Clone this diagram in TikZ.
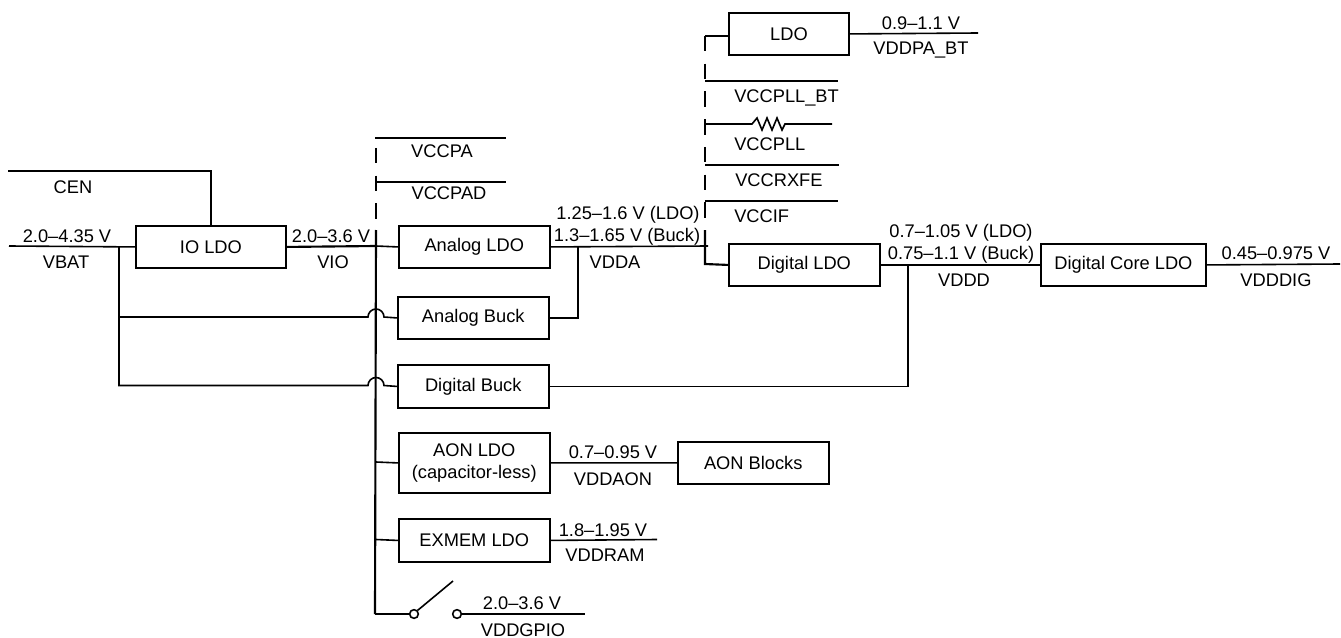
\documentclass[tikz,border=0pt]{standalone}
\usepackage{fontspec}
\setmainfont{Liberation Sans}
\usepackage{tikz}
\usetikzlibrary{positioning}

\begin{document}
\begin{tikzpicture}[
          x=0.75pt, y=-0.75pt,
          ldobox/.style={rectangle, draw=black, line width=1.4pt, anchor=north west, inner sep=0pt, font=\fontsize{13.7}{16.5}\selectfont, align=center},
          wire/.style={draw=black, line width=1.2pt},
          mainrail/.style={draw=black, line width=1.6pt},
          railbreak/.style={mainrail, dash pattern=on 11.6pt off 9.2pt},
          voltlabel/.style={font=\fontsize{13.7}{16.5}\selectfont, inner sep=0pt, text height=9.8pt, text depth=0pt},
          railpin/.style={circle, draw=black, fill=white, line width=1.2pt, minimum size=6.5pt, inner sep=0pt}
        ]
          \useasboundingbox (0,0) rectangle (1341,638);

          % Regulator boxes
          \node[ldobox, minimum width=112.5pt, minimum height=32pt] (ioldo) at (135,224.67) {IO LDO};
          \node[ldobox, minimum width=113pt, minimum height=32pt] (analogldo) at (398,224.67) {Analog LDO};
          \node[ldobox, minimum width=113pt, minimum height=32pt] (analogbuck) at (397,295.67) {Analog Buck};
          \node[ldobox, minimum width=113pt, minimum height=32pt] (digitalbuck) at (397,364.17) {Digital Buck};
          \node[ldobox, minimum width=113pt, minimum height=45pt] (aonldo) at (398,432) {AON LDO\\(capacitor-less)};
          \node[ldobox, minimum width=113pt, minimum height=32pt] (exmemldo) at (398,518.17) {EXMEM LDO};
          \node[ldobox, minimum width=113pt, minimum height=32pt] (aonblocks) at (677,440.67) {AON Blocks};
          \node[ldobox, minimum width=90pt, minimum height=31.5pt] (paldo) at (728,12) {LDO};
          \node[ldobox, minimum width=113pt, minimum height=31.5pt] (digitalldo) at (728,243) {Digital LDO};
          \node[ldobox, minimum width=123.75pt, minimum height=31.5pt] (coreldo) at (1040,243) {Digital Core LDO};

          % Switch contacts
          \node[railpin] (swleft) at (414,614) {};
          \node[railpin] (swright) at (457,614) {};

          % Free wire ends and taps
          \coordinate (cenend) at (8,171);
          \coordinate (batend) at (9,246);
          \coordinate (battap) at (119,246);
          \coordinate (viotap) at (376,246);
          \coordinate (railstart) at (376,230);
          \coordinate (railend) at (375,614);
          \coordinate (breaktop) at (376,148);
          \coordinate (ddatap) at (578,246);
          \coordinate (ddaend) at (708,246);
          \coordinate (dddtap) at (908,264);
          \coordinate (dbltop) at (705,230);
          \coordinate (dbltap) at (705,264);
          \coordinate (patap) at (705,36);
          \coordinate (swtip) at (453,581);

          % VBAT and VIO
          \draw[wire] (cenend) -| (ioldo.north);
          \draw[wire] (batend) -- (ioldo.west);
          \draw[mainrail] (ioldo.east) -- (viotap);
          \draw[wire] (viotap) -- (analogldo.west);
          \draw[wire] (battap) |- (368,317) arc (180:360:8) -- (analogbuck.west);
          \draw[wire] (battap) |- (368,385.5) arc (180:360:8) -- (digitalbuck.west);

          % VIO rail
          \draw[mainrail] (railstart) -- (railend);
          \draw[railbreak] (breaktop) -- (railstart);
          \draw[wire] (375,138) -- (506,138);
          \draw[wire] (376,182) -- (506,182);
          \draw[wire] (376,462) -- (aonldo.west);
          \draw[wire] (376,539.5) -- (exmemldo.west);

          % VDDA
          \draw[wire] (analogldo.east) -- (ddaend);
          \draw[wire] (analogbuck.east) -| (ddatap);

          % Branches off VDDA
          \draw[wire] (paldo.west |- patap) -- (patap);
          \draw[railbreak] (patap) -- (dbltop);
          \draw[mainrail] (dbltop) -- (dbltap) -- (digitalldo.west);
          \draw[wire] (705,81) -- (838,81);
          \draw[wire] (705,124) -- (752,124) -- (757,118) -- (762,130) -- (767,118) -- (772,130) -- (777,118) -- (782,130) -- (785,124) -- (832,124);
          \draw[wire] (705,165) -- (839,165);
          \draw[wire] (705,201) -- (838,201);

          % VDDD
          \draw[wire] (digitalldo.east) -- (coreldo.west);
          \draw[wire] (digitalbuck.east) -| (dddtap);

          % Outputs
          \draw[wire] (paldo.east) -- (978,33);
          \draw[wire] (coreldo.east) -- (1340,264);
          \draw[wire] (aonldo.east) -- (aonblocks.west);
          \draw[wire] (exmemldo.east) -- (657,539.5);

          % Switch to GPIO
          \draw[wire] (railend) -- (swleft.west);
          \draw[wire] (swleft.north east) -- (swtip);
          \draw[wire] (swright.east) -- (585,614);

          % Labels
          \node[voltlabel] (cenlabel) at (73,187) {CEN};
          \node[voltlabel] (batvolt) at (67,236) {2.0--4.35 V};
          \node[voltlabel] (batname) at (66,262) {VBAT};
          \node[voltlabel] (iovolt) at (331,236) {2.0--3.6 V};
          \node[voltlabel] (ioname) at (333,262) {VIO};
          \node[voltlabel] (panama) at (442,151) {VCCPA};
          \node[voltlabel] (padname) at (449,193) {VCCPAD};
          \node[voltlabel] (ldovolta) at (628,213) {1.25--1.6 V (LDO)};
          \node[voltlabel] (buckvolta) at (627,235) {1.3--1.65 V (Buck)};
          \node[voltlabel] (ddaname) at (615,262) {VDDA};
          \node[voltlabel] (btvolt) at (921,23) {0.9--1.1 V};
          \node[voltlabel] (btname) at (921,48) {VDDPA\_BT};
          \node[voltlabel, anchor=west] (pllbtname) at (734,96) {VCCPLL\_BT};
          \node[voltlabel, anchor=west] (pllname) at (734,144) {VCCPLL};
          \node[voltlabel, anchor=west] (rxname) at (735,180) {VCCRXFE};
          \node[voltlabel, anchor=west] (ifname) at (734,216) {VCCIF};
          \node[voltlabel] (ldovoltd) at (961,231) {0.7--1.05 V (LDO)};
          \node[voltlabel] (buckvoltd) at (961,253) {0.75--1.1 V (Buck)};
          \node[voltlabel] (dddname) at (964,280) {VDDD};
          \node[voltlabel] (digvolt) at (1276,253) {0.45--0.975 V};
          \node[voltlabel] (digname) at (1276,280) {VDDDIG};
          \node[voltlabel] (aonvolt) at (613,452) {0.7--0.95 V};
          \node[voltlabel] (aonname) at (613,479) {VDDAON};
          \node[voltlabel] (ramvolt) at (603,530) {1.8--1.95 V};
          \node[voltlabel] (ramname) at (605,555) {VDDRAM};
          \node[voltlabel] (gpiovolt) at (522,603) {2.0--3.6 V};
          \node[voltlabel] (gpioname) at (523,630) {VDDGPIO};
        \end{tikzpicture}
\end{document}
